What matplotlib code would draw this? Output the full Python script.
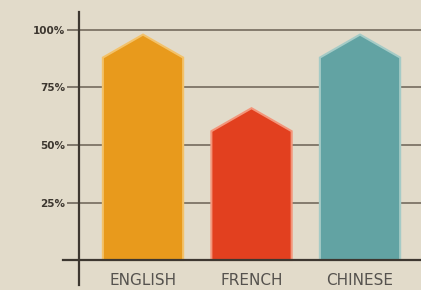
import numpy as np
import matplotlib.pyplot as plt
from matplotlib.patches import Polygon

languages = ['ENGLISH', 'FRENCH', 'CHINESE']
peaks     = [98, 66, 98]        # top of the arrow tip (%)
shoulders = [88, 56, 88]        # where the pointed top begins (%)
colors    = ['#e89a1c', '#e2401f', '#62a3a3']
edges     = ['#f3c26a', '#f3957a', '#a5cbc6']
yticks    = [25, 50, 75, 100]
ylabels   = ['25%', '50%', '75%', '100%']

bg = '#e2dbca'
fig = plt.figure(figsize=(4.21, 2.90), dpi=100, facecolor=bg)
ax = fig.add_axes([0, 0, 1, 1], facecolor=bg)
ax.set_xlim(-1.318, 2.562)
ax.set_ylim(-13.04, 113.04)

half = 0.37
for i, (p, s) in enumerate(zip(peaks, shoulders)):
    pts = [(i - half, 0), (i - half, s), (i, p), (i + half, s), (i + half, 0)]
    ax.add_patch(Polygon(pts, closed=True, facecolor=colors[i],
                         edgecolor=edges[i], linewidth=1.5, zorder=3))

# gridlines only right of the y axis
ax.hlines(yticks, -0.59, 2.562, color='#7d7366', linewidth=1.3, zorder=1)

# axes lines
for sp in ['top', 'right']:
    ax.spines[sp].set_visible(False)
ax.spines['left'].set_position(('data', -0.59))
ax.spines['left'].set_bounds(-10.9, 107.8)
ax.spines['bottom'].set_position(('data', 0))
ax.spines['bottom'].set_bounds(-0.737, 2.562)
for sp in ['left', 'bottom']:
    ax.spines[sp].set_color('#3d3730')
    ax.spines[sp].set_linewidth(1.6)
    ax.spines[sp].set_zorder(4)

ax.set_yticks(yticks)
ax.set_yticklabels(ylabels, fontsize=7.5, fontweight='bold', color='#3d3730')
ax.tick_params(axis='y', direction='out', length=9, width=1.2,
               color='#6f665b', pad=1)

ax.set_xticks(range(len(languages)))
ax.set_xticklabels(languages, fontsize=11, color='#55524e')
ax.tick_params(axis='x', length=0, pad=9)

fig.savefig('out.png', dpi=100, facecolor=bg)
